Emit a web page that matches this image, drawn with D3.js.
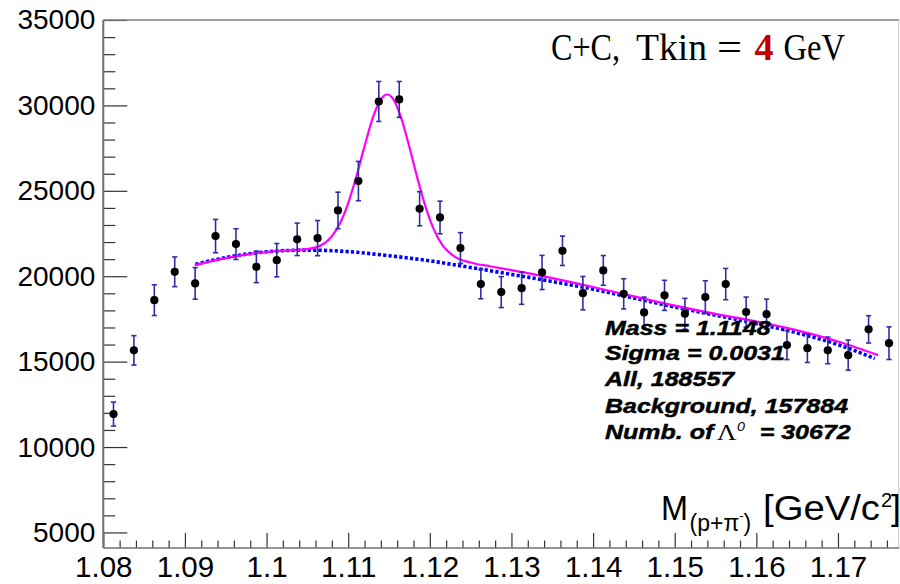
<!DOCTYPE html>
<html>
<head>
<meta charset="utf-8">
<script src="https://cdn.jsdelivr.net/npm/d3@7"></script>
<style>
  html, body { margin: 0; padding: 0; background: #fff; }
  svg { display: block; }
</style>
</head>
<body>
<svg id="chart" width="900" height="584"></svg>
<script>
// ---- data: p + pi- invariant mass spectrum ----
const binCenters = [1.08125, 1.08375, 1.08625, 1.08875, 1.09125, 1.09375, 1.09625, 1.09875,
  1.10125, 1.10375, 1.10625, 1.10875, 1.11125, 1.11375, 1.11625, 1.11875, 1.12125, 1.12375,
  1.12625, 1.12875, 1.13125, 1.13375, 1.13625, 1.13875, 1.14125, 1.14375, 1.14625, 1.14875,
  1.15125, 1.15375, 1.15625, 1.15875, 1.16125, 1.16375, 1.16625, 1.16875, 1.17125, 1.17375, 1.17625];
const counts = [11930, 15660, 18600, 20260, 19580, 22350, 21880, 20550, 20940, 22160, 22230, 23850,
  25570, 30230, 30350, 23950, 23440, 21650, 19540, 19070, 19300, 20220, 21490, 19010, 20340, 18970,
  17880, 18880, 17800, 18780, 19540, 17900, 17780, 15970, 15790, 15660, 15380, 16890, 16080];
const countErrors = [700, 860, 900, 870, 925, 975, 900, 925, 975, 950, 1030, 1070,
  1150, 1170, 1050, 1000, 955, 900, 860, 905, 945, 1000, 860, 975, 870, 885,
  900, 880, 905, 955, 915, 880, 880, 850, 840, 780, 885, 800, 955];

// background part of the fit (dotted)
const bgFitX = [1.0913, 1.095, 1.100, 1.105, 1.110, 1.115, 1.120, 1.125, 1.130, 1.135, 1.140,
  1.145, 1.150, 1.155, 1.160, 1.165, 1.170, 1.1745];
const bgFitY = [20700, 21090, 21430, 21530, 21440, 21200, 20900, 20510, 20110, 19690, 19240,
  18720, 18200, 17720, 17230, 16680, 16000, 15180];

// signal + background fit (solid)
const totalFitX = [1.0912, 1.095, 1.100, 1.103, 1.105, 1.107, 1.108, 1.109, 1.110, 1.111, 1.112,
  1.113, 1.114, 1.1148, 1.1155, 1.1165, 1.1175, 1.1185, 1.1195, 1.1205, 1.1215, 1.123, 1.125,
  1.1275, 1.130, 1.135, 1.140, 1.145, 1.150, 1.155, 1.160, 1.165, 1.170, 1.1749];
const totalFitY = [20650, 21060, 21420, 21530, 21590, 21900, 22340, 23100, 24280, 25840, 27600,
  29250, 30350, 30640, 30380, 29260, 27560, 25700, 24030, 22730, 21850, 21160, 20800,
  20570, 20360, 19890, 19370, 18820, 18280, 17800, 17350, 16830, 16180, 15380];

const xTicks = [1.08, 1.09, 1.10, 1.11, 1.12, 1.13, 1.14, 1.15, 1.16, 1.17];
const yTicks = [5000, 10000, 15000, 20000, 25000, 30000, 35000];
const titleParts = ["C+C,", "Tkin", "=", "4", "GeV"];
const statLines = ["Mass = 1.1148", "Sigma = 0.0031", "All, 188557", "Background, 157884"];
const lambdaLine = ["Numb. of ", "\u039B", "0", "= 30672"];

// ---- layout ----
const svg = d3.select("#chart");
const sans = "'Liberation Sans', Arial, Helvetica, sans-serif";
const serif = "'Liberation Serif', 'Times New Roman', serif";
const plotLeft = 103.3, plotRight = 899.2, plotTop = 20, plotBottom = 548;

const x = d3.scaleLinear().domain([1.08, 1.1775]).range([plotLeft, plotRight]);
const y = d3.scaleLinear().domain([4090, 35000]).range([plotBottom, plotTop]);

// minor tick values
const xMinor = d3.range(1.08, 1.1776, 0.002).filter(v => xTicks.every(t => Math.abs(t - v) > 1e-6));
const yMinor = d3.range(5000, 35001, 1000).filter(v => v % 5000 !== 0);

// x axis
const gx = svg.append("g").attr("transform", `translate(0,${plotBottom})`);
gx.call(d3.axisBottom(x).tickValues(xMinor).tickSizeInner(-7.5).tickSizeOuter(0).tickFormat(""));
gx.call(g => g.select(".domain").remove());
const gx2 = svg.append("g").attr("transform", `translate(0,${plotBottom})`);
gx2.call(d3.axisBottom(x).tickValues(xTicks).tickSizeInner(-15).tickSizeOuter(0)
  .tickPadding(8).tickFormat(d => String(+d.toFixed(2))));
gx2.call(g => g.select(".domain").remove());
gx2.selectAll("text").attr("font-family", sans).attr("font-size", 29.5).attr("fill", "#000");

// y axis
const gy = svg.append("g").attr("transform", `translate(${plotLeft},0)`);
gy.call(d3.axisLeft(y).tickValues(yMinor).tickSizeInner(-12).tickSizeOuter(0).tickFormat(""));
gy.call(g => g.select(".domain").remove());
const gy2 = svg.append("g").attr("transform", `translate(${plotLeft},0)`);
gy2.call(d3.axisLeft(y).tickValues(yTicks).tickSizeInner(-24).tickSizeOuter(0)
  .tickPadding(8).tickFormat(d => String(d)));
gy2.call(g => g.select(".domain").remove());
gy2.selectAll("text").attr("font-family", sans).attr("font-size", 28).attr("fill", "#000");

svg.selectAll(".tick line").attr("stroke", "#333").attr("stroke-width", 1.2);

// frame
svg.append("line").attr("x1", plotLeft).attr("x2", plotRight).attr("y1", plotTop).attr("y2", plotTop)
  .attr("stroke", "#808080").attr("stroke-width", 1.5);
svg.append("line").attr("x1", plotRight - 0.5).attr("x2", plotRight - 0.5).attr("y1", plotTop).attr("y2", plotBottom)
  .attr("stroke", "#c8c8c8").attr("stroke-width", 1);
svg.append("line").attr("x1", plotLeft).attr("x2", plotLeft).attr("y1", plotTop).attr("y2", plotBottom)
  .attr("stroke", "#707070").attr("stroke-width", 2);
svg.append("line").attr("x1", plotLeft).attr("x2", plotRight).attr("y1", plotBottom).attr("y2", plotBottom)
  .attr("stroke", "#707070").attr("stroke-width", 1.5);

// fit curves
const line = d3.line().x(d => x(d[0])).y(d => y(d[1])).curve(d3.curveMonotoneX);
svg.append("path")
  .datum(bgFitX.map((v, i) => [v, bgFitY[i]]))
  .attr("d", line).attr("fill", "none")
  .attr("stroke", "#0000ff").attr("stroke-width", 3.6).attr("stroke-dasharray", "3.2,2.2");
svg.append("path")
  .datum(totalFitX.map((v, i) => [v, totalFitY[i]]))
  .attr("d", line).attr("fill", "none")
  .attr("stroke", "#ff00ff").attr("stroke-width", 2.2);

// data points with error bars
const pts = binCenters.map((c, i) => ({ m: c, n: counts[i], e: countErrors[i] }));
const eb = svg.append("g").attr("stroke", "#2e2ea8").attr("stroke-width", 1.6);
pts.forEach(p => {
  const cx = x(p.m);
  eb.append("line").attr("x1", cx).attr("x2", cx).attr("y1", y(p.n + p.e)).attr("y2", y(p.n - p.e));
  eb.append("line").attr("x1", cx - 2.6).attr("x2", cx + 2.6).attr("y1", y(p.n + p.e)).attr("y2", y(p.n + p.e));
  eb.append("line").attr("x1", cx - 2.6).attr("x2", cx + 2.6).attr("y1", y(p.n - p.e)).attr("y2", y(p.n - p.e));
});
svg.append("g").selectAll("circle").data(pts).join("circle")
  .attr("cx", d => x(d.m)).attr("cy", d => y(d.n)).attr("r", 4.1).attr("fill", "#000");

// title: C+C, Tkin = 4 GeV
const titleX = [551, 636, 717, 754.5, 783.5];
const titleW = [69, 71, 25, 19, 61.5];
titleParts.forEach((t, i) => {
  svg.append("text").attr("x", titleX[i]).attr("y", 60)
    .attr("font-family", serif).attr("font-size", 38)
    .attr("font-weight", t === "4" ? "bold" : "normal")
    .attr("fill", t === "4" ? "#c00000" : "#000")
    .attr("textLength", titleW[i]).attr("lengthAdjust", "spacingAndGlyphs")
    .text(t);
});

// fit statistics
const st = svg.append("g").attr("transform", "translate(605,0) scale(1.19,1)")
  .attr("font-family", sans).attr("font-size", 21).attr("font-weight", "bold").attr("font-style", "italic")
  .attr("fill", "#000");
const statY = [335, 360.5, 386, 413.5];
statLines.forEach((t, i) => st.append("text").attr("x", 0).attr("y", statY[i])
  .attr("stroke", "#000").attr("stroke-width", 0.45).text(t));
st.append("text").attr("x", 0).attr("y", 439).attr("stroke", "#000").attr("stroke-width", 0.45)
  .text(lambdaLine[0]);
st.append("text").attr("x", 94).attr("y", 440).attr("font-family", serif)
  .attr("font-weight", "normal").attr("font-style", "normal").attr("font-size", 23).text(lambdaLine[1]);
st.append("text").attr("x", 111).attr("y", 431.5).attr("font-size", 12)
  .attr("font-weight", "normal").text(lambdaLine[2]);
st.append("text").attr("x", 130).attr("y", 439).attr("stroke", "#000").attr("stroke-width", 0.45)
  .text(lambdaLine[3]);

// x-axis title: M(p+pi-) [GeV/c2]
const at = svg.append("g").attr("font-family", sans).attr("fill", "#000");
at.append("text").attr("x", 661).attr("y", 520).attr("font-size", 35)
  .attr("textLength", 27).attr("lengthAdjust", "spacingAndGlyphs").text("M");
const sub = at.append("text").attr("x", 689.5).attr("y", 531).attr("font-size", 23);
sub.append("tspan").text("(p+\u03C0");
sub.append("tspan").attr("dy", -11).attr("font-size", 13).text("-");
sub.append("tspan").attr("dy", 11).text(")");
at.append("text").attr("x", 763).attr("y", 520).attr("font-size", 35)
  .attr("textLength", 117).attr("lengthAdjust", "spacingAndGlyphs").text("[GeV/c");
at.append("text").attr("x", 881).attr("y", 507).attr("font-size", 20).text("2");
at.append("text").attr("x", 891).attr("y", 520).attr("font-size", 35).text("]");
</script>
</body>
</html>
